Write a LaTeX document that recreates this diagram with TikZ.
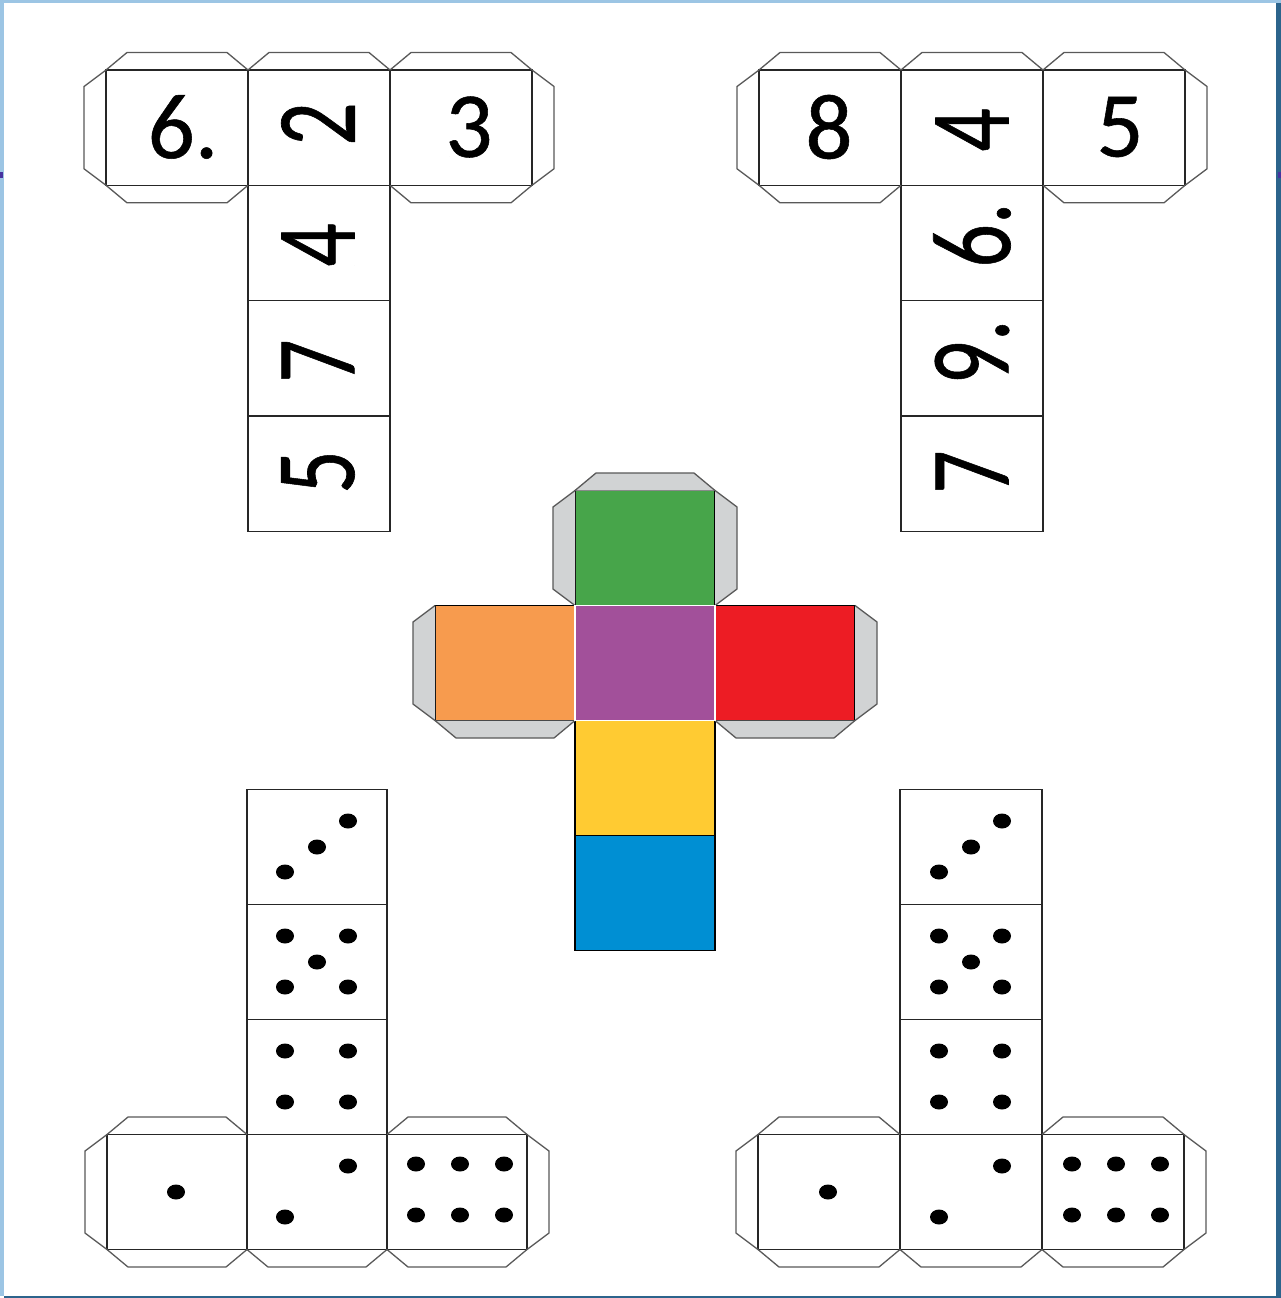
\documentclass[tikz,border=0pt]{standalone}
\usepackage{fontspec}
\setmainfont{Carlito}
\newfontfamily\numeralfont{Carlito}[FakeBold=0.6]
\usetikzlibrary{positioning, calc}

\definecolor{framelight}{RGB}{156,197,228}
\definecolor{framedark}{RGB}{44,100,140}
\definecolor{frametick}{RGB}{70,50,160}
\definecolor{flapgrey}{RGB}{209,211,212}
\definecolor{netgreen}{RGB}{71,165,74}
\definecolor{netorange}{RGB}{247,155,78}
\definecolor{netpurple}{RGB}{162,80,154}
\definecolor{netred}{RGB}{237,28,36}
\definecolor{netyellow}{RGB}{255,203,50}
\definecolor{netblue}{RGB}{0,143,211}

% flaps round a face: the name of the face, then the path options
\newcommand{\flapN}[2][]{\draw[flap,#1] (#2.north west) -- ++(21,-17.5) -| ($(#2.north east)+(-21,-17.5)$) -- (#2.north east);}
\newcommand{\flapS}[2][]{\draw[flap,#1] (#2.south west) -- ++(21,17.5) -| ($(#2.south east)+(-21,17.5)$) -- (#2.south east);}
\newcommand{\flapW}[2][]{\draw[flap,#1] (#2.north west) -- ++(-22,16.5) |- ($(#2.south west)+(-22,-16.5)$) -- (#2.south west);}
\newcommand{\flapE}[2][]{\draw[flap,#1] (#2.north east) -- ++(22,16.5) |- ($(#2.south east)+(22,-16.5)$) -- (#2.south east);}

\begin{document}
\begin{tikzpicture}[x=1pt, y=-1pt, node distance=0pt,
    flap/.style={draw=black!65, line width=1.3pt, line join=miter},
    face/.style={rectangle, draw=black!85, fill=white, line width=1.3pt, inner sep=0pt, outer sep=0pt, minimum width=142, minimum height=115.3},
    narrow/.style={face, minimum width=140, minimum height=115},
    numeral/.style={inner sep=0pt, font=\numeralfont\fontsize{93}{93}\selectfont},
    sideways/.style={numeral, xscale=1.22, yscale=0.92, rotate=90},
    pip/.style={fill=black}]

    \useasboundingbox (0,0) rectangle (1281,1298);
    % page frame
    \fill[white] (0,0) rectangle (1281,1298);
    \fill[framelight] (0,0) rectangle (4,1296);
    \fill[framelight] (0,0) rectangle (1281,3);
    \fill[framedark] (4,1296) rectangle (1281,1298);
    \fill[framedark] (1276,3) rectangle (1281,1298);
    \fill[frametick] (0,172) rectangle (3,178);
    \fill[frametick] (1278,172) rectangle (1281,178);

    % numbers, left
    \node [face, anchor=north west] (sixA) at (106,70) {};
    \node [face, right=of sixA] (twoA) {};
    \node [face, right=of twoA] (threeA) {};
    \node [face, below=of twoA] (fourA) {};
    \node [face, below=of fourA] (sevenA) {};
    \node [face, below=of sevenA] (fiveA) {};
    \foreach \f in {sixA,twoA,threeA} {\flapN{\f}}
    \foreach \f in {sixA,threeA} {\flapS{\f}}
    \flapW{sixA}
    \flapE{threeA}
    \node [numeral] (labelSixA) at (183,127) {6.};
    \node [sideways] (labelTwoA) at (318,124) {2};
    \node [numeral] (labelThreeA) at (469,127) {3};
    \node [sideways] (labelFourA) at (318,245) {4};
    \node [sideways] (labelSevenA) at (318,361) {7};
    \node [sideways] (labelFiveA) at (318,472) {5};

    % numbers, right
    \node [face, anchor=north west] (eightB) at (759,70) {};
    \node [face, right=of eightB] (fourB) {};
    \node [face, right=of fourB] (fiveB) {};
    \node [face, below=of fourB] (sixB) {};
    \node [face, below=of sixB] (nineB) {};
    \node [face, below=of nineB] (sevenB) {};
    \foreach \f in {eightB,fourB,fiveB} {\flapN{\f}}
    \foreach \f in {eightB,fiveB} {\flapS{\f}}
    \flapW{eightB}
    \flapE{fiveB}
    \node [numeral] (labelEightB) at (829,127) {8};
    \node [sideways] (labelFourB) at (972,130) {4};
    \node [numeral] (labelFiveB) at (1120,127) {5};
    \node [sideways] (labelSixB) at (972,235) {6.};
    \node [sideways] (labelNineB) at (972,352) {9.};
    \node [sideways] (labelSevenB) at (972,472) {7};

    % coloured net
    \node [narrow, anchor=north west, fill=netgreen, draw=black] (green) at (575,490.5) {};
    \node [narrow, below=of green, fill=netpurple, draw=white] (purple) {};
    \node [narrow, left=of purple, fill=netorange, draw=black] (orange) {};
    \node [narrow, right=of purple, fill=netred, draw=black] (red) {};
    \node [narrow, below=of purple, fill=netyellow, draw=black] (yellow) {};
    \node [narrow, below=of yellow, fill=netblue, draw=black] (bluebox) {};
    \flapN[fill=flapgrey]{green}
    \flapW[fill=flapgrey]{green}
    \flapE[fill=flapgrey]{green}
    \flapW[fill=flapgrey]{orange}
    \flapS[fill=flapgrey]{orange}
    \flapE[fill=flapgrey]{red}
    \flapS[fill=flapgrey]{red}
    \draw[white, line width=1.3pt] (purple.north west) rectangle (purple.south east);

    % dots, left
    \node [narrow, anchor=north west] (threeC) at (247,789.5) {};
    \node [narrow, below=of threeC] (fiveC) {};
    \node [narrow, below=of fiveC] (fourC) {};
    \node [narrow, below=of fourC] (twoC) {};
    \node [narrow, left=of twoC] (oneC) {};
    \node [narrow, right=of twoC] (sixC) {};
    \foreach \f in {oneC,sixC} {\flapN{\f}}
    \foreach \f in {oneC,twoC,sixC} {\flapS{\f}}
    \flapW{oneC}
    \flapE{sixC}
    \foreach \x/\y in {285/872,317/847,348/821,
                       285/936,348/936,317/962,285/987,348/987,
                       285/1051,348/1051,285/1102,348/1102,
                       176/1192,
                       348/1166,285/1217,
                       416/1164,460/1164,504/1164,416/1215,460/1215,504/1215}
        \fill[pip] (\x,\y) ellipse (9 and 7.5);

    % dots, right
    \node [face, minimum height=115, anchor=north west] (threeD) at (900,789.5) {};
    \node [face, minimum height=115, below=of threeD] (fiveD) {};
    \node [face, minimum height=115, below=of fiveD] (fourD) {};
    \node [face, minimum height=115, below=of fourD] (twoD) {};
    \node [face, minimum height=115, left=of twoD] (oneD) {};
    \node [face, minimum height=115, right=of twoD] (sixD) {};
    \foreach \f in {oneD,sixD} {\flapN{\f}}
    \foreach \f in {oneD,twoD,sixD} {\flapS{\f}}
    \flapW{oneD}
    \flapE{sixD}
    \foreach \x/\y in {939/872,971/847,1002/821,
                       939/936,1002/936,971/962,939/987,1002/987,
                       939/1051,1002/1051,939/1102,1002/1102,
                       828/1192,
                       1002/1166,939/1217,
                       1072/1164,1116/1164,1160/1164,1072/1215,1116/1215,1160/1215}
        \fill[pip] (\x,\y) ellipse (9 and 7.5);
\end{tikzpicture}
\end{document}
